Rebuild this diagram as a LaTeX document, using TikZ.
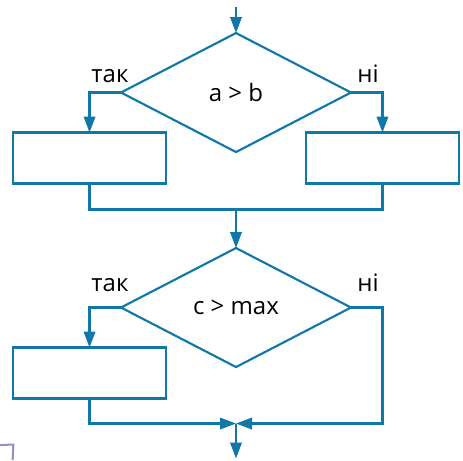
\documentclass[tikz,border=0pt]{standalone}
\usepackage{fontspec}
\setmainfont{Open Sans}
\usepackage{tikz}
\usetikzlibrary{shapes.geometric,arrows.meta,positioning,calc}

\definecolor{flowblue}{RGB}{16,120,168}
\definecolor{edgelilac}{RGB}{150,140,200}

\begin{document}
\begin{tikzpicture}[
    font=\fontsize{18}{22}\selectfont,
    decision/.style={diamond, draw=flowblue, line width=1.6pt, minimum width=172.5pt, minimum height=89.25pt, inner sep=0pt, outer sep=0pt},
    block/.style={rectangle, draw=flowblue, line width=1.6pt, minimum width=114.75pt, minimum height=38.25pt, outer sep=0pt},
    lbl/.style={inner sep=0pt},
    line/.style={draw=flowblue, line width=1.6pt},
    flow/.style={line, -{Triangle[length=12pt, width=8.6pt]}}
]
\useasboundingbox (-177pt,69.4pt) rectangle (170.25pt,-275.6pt);

% Decisions
\node[decision] (cmpab) {a > b};
\node[decision, below=72pt of cmpab] (cmpmax) {c > max};

% Blocks
\node[block, below=30pt of cmpab.west, xshift=-23.6pt] (yesab) {};
\node[block, below=30pt of cmpab.east, xshift=23.6pt] (noab) {};
\node[block, below=30pt of cmpmax.west, xshift=-23.6pt] (yesmax) {};

% Labels
\node[lbl, anchor=south, above=7.5pt of cmpab.west, xshift=-8.25pt] (yesablbl) {так};
\node[lbl, anchor=south, above=7.5pt of cmpab.east, xshift=12.75pt] (noablbl) {ні};
\node[lbl, anchor=south, above=11.5pt of cmpmax.west, xshift=-8.25pt] (yesmaxlbl) {так};
\node[lbl, anchor=south, above=11.5pt of cmpmax.east, xshift=12.75pt] (nomaxlbl) {ні};

% Junctions and free ends
\coordinate[above=19.5pt of cmpab.north] (entry);
\coordinate[below=19.5pt of yesab.south] (join1);
\coordinate[below=18.75pt of yesmax.south] (join2);
\coordinate[right=23.6pt of cmpmax.east] (bypass);
\coordinate (merge) at (join2 -| cmpmax);
\coordinate[below=26.25pt of merge] (exit);

% Connectors
\draw[flow] (entry) -- (cmpab);
\draw[flow] (cmpab.west) -| (yesab.north);
\draw[flow] (cmpab.east) -| (noab.north);
\draw[line] (yesab.south) -- (join1) -| (noab.south);
\draw[flow] (join1 -| cmpab) -- (cmpmax);

\draw[flow] (cmpmax.west) -| (yesmax.north);
\draw[flow] (yesmax.south) |- (merge);
\draw[flow] (cmpmax.east) -- (bypass) |- (merge);
\draw[flow] (merge) -- (exit);

% cropped edge of neighbouring figure
\draw[edgelilac, line width=1.5pt] (-177pt,-264.4pt) -- (-167pt,-264pt) -- (-167.5pt,-275.6pt);

\end{tikzpicture}
\end{document}
